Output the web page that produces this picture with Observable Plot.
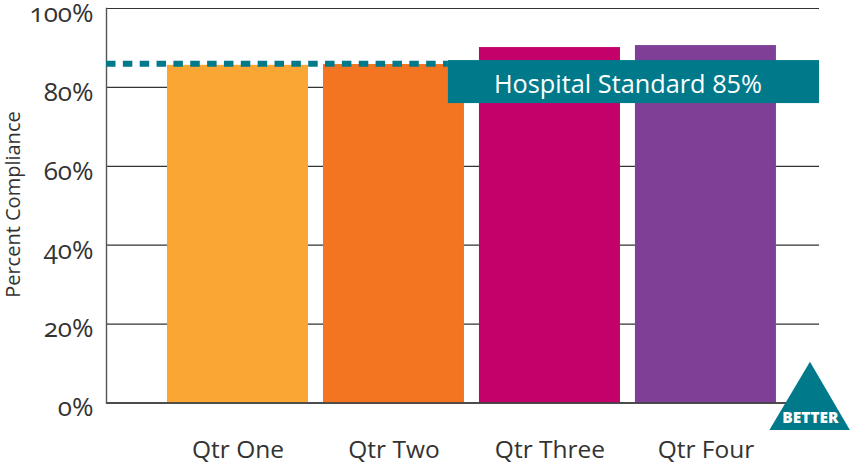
<!DOCTYPE html>
<html>
<head>
<meta charset="utf-8">
<script src="https://cdn.jsdelivr.net/npm/d3@7"></script>
<script src="https://cdn.jsdelivr.net/npm/@observablehq/plot@0.6"></script>
<style>
html,body{margin:0;padding:0;background:#fff}
svg{display:block}
.oldnum text{font-variant-numeric:oldstyle-nums;font-feature-settings:"onum" 1}
</style>
</head>
<body>
<div id="chart"></div>
<script>
const categories = ["Qtr One", "Qtr Two", "Qtr Three", "Qtr Four"];
const positions = [0, 1, 2, 3];
const values = [85.6, 85.8, 90.1, 90.6];
const barColors = ["#FAA634", "#F47521", "#C4006B", "#803F97"];
const yTicks = [0, 20, 40, 60, 80, 100];
const teal = "#007A8A";
const standardValue = 86;
const standardLabel = "Hospital Standard 85%";
const banner = [{x1: 1.349, x2: 3.728, y1: 75.9, y2: 86.8}];
const triangleX = [3.41, 3.67, 3.926];
const triangleY = [-7, 10.3, -7];
const bars = categories.map((c, i) => ({c, i, v: values[i], color: barColors[i]}));
const font = "'Open Sans', sans-serif";

const chart = Plot.plot({
  width: 850, height: 468,
  marginLeft: 106, marginRight: 31, marginTop: 8, marginBottom: 65.5,
  style: {fontFamily: font, background: "#fff", color: "#333"},
  x: {domain: [-0.843, 3.728], axis: null},
  y: {domain: [0, 100], axis: null},
  marks: [
    Plot.ruleY(yTicks, {stroke: "#333", strokeWidth: 1.2}),
    Plot.rect(bars, {x1: d => d.i - 0.452, x2: d => d.i + 0.452, y1: 0, y2: "v", fill: "color"}),
    Plot.ruleY([0], {stroke: "#333", strokeWidth: 1.4}),
    Plot.frame({anchor: "left", stroke: "#555", strokeWidth: 1.4}),
    Plot.ruleY([standardValue], {x1: -0.843, x2: 1.349, stroke: teal, strokeWidth: 6, strokeDasharray: "9.5 7.35"}),
    Plot.rect(banner, {x1: "x1", x2: "x2", y1: "y1", y2: "y2", fill: teal}),
    Plot.text([standardLabel], {x: 2.5, y: 80.7, text: d => d, fill: "#fff", fontSize: 25.3, textAnchor: "middle"}),
    Plot.axisY({ticks: yTicks, tickFormat: d => d + "%", tickSize: 0, tickPadding: 13, dy: 5, label: null, fontSize: 26, className: "oldnum", fill: "#333"}),
    Plot.axisX({ticks: positions, tickFormat: i => categories[i], tickSize: 0, tickPadding: 38, label: null, fontSize: 24.5, fill: "#333"}),
    Plot.text(["Percent Compliance"], {x: -1.439, y: 50.3, text: d => d, rotate: -90, fontSize: 20, fill: "#333"}),
    Plot.areaY(triangleX.map((x, i) => ({x, y: triangleY[i]})), {x: "x", y1: -7, y2: "y", fill: teal, curve: "linear"}),
    Plot.text(["BETTER"], {x: 3.67, y: -3.8, text: d => d, fill: "#fff", fontSize: 15.5, fontWeight: 800})
  ]
});
document.getElementById("chart").append(chart);
</script>
</body>
</html>
